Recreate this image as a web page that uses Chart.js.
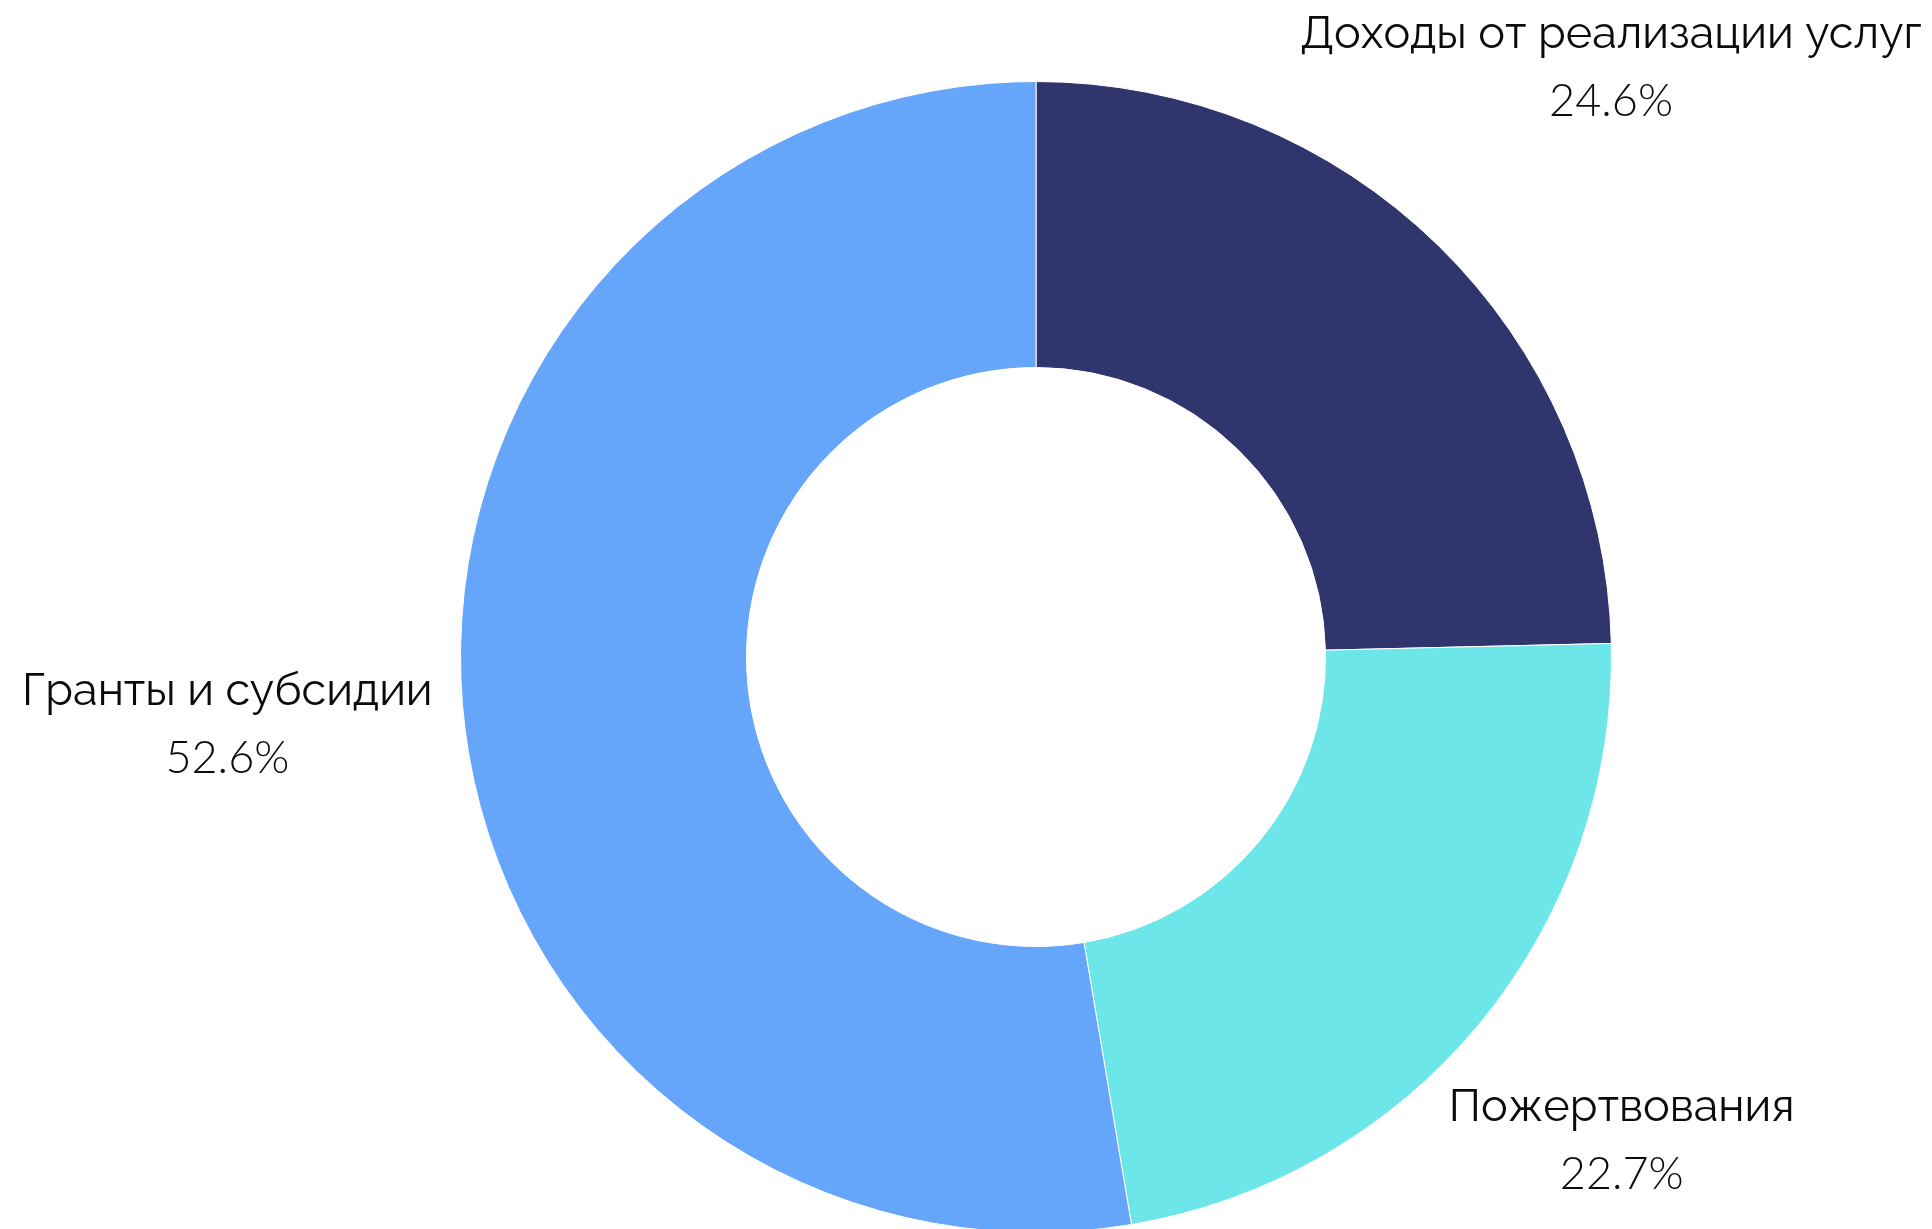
<!DOCTYPE html>
<html lang="ru">
<head>
<meta charset="utf-8">
<title>Структура доходов</title>
<script src="https://cdn.jsdelivr.net/npm/chart.js@4/dist/chart.umd.min.js"></script>
<style>
  html, body { margin: 0; padding: 0; background: #ffffff; overflow: hidden; }
  .chart-wrap { position: relative; width: 1932px; height: 1240px; }
</style>
</head>
<body>
<div class="chart-wrap"><canvas id="incomeChart"></canvas></div>
<script>
const categories = ['Доходы от реализации услуг', 'Пожертвования', 'Гранты и субсидии'];
const shares = [24.6, 22.7, 52.6];
const shareLabels = ['24.6%', '22.7%', '52.6%'];
const sliceColors = ['#31356e', '#6ce6e8', '#66a6fa'];

// how far out each label block sits, in outer radii
const LABEL_RADIUS = [1.43, 1.32, 1.41];
const LABEL_FONT = '400 45px Raleway, Lato, "Open Sans", sans-serif';
// the installed Raleway only has old-style figures, so numbers use Lato
const VALUE_FONT = '300 45px Lato, "Open Sans", sans-serif';
const LABEL_LINE = 67;

const outsideLabels = {
  id: 'outsideLabels',
  afterDatasetsDraw(chart) {
    const ctx = chart.ctx;
    const arcs = chart.getDatasetMeta(0).data;
    ctx.save();
    ctx.fillStyle = '#0b0b0b';
    ctx.textAlign = 'center';
    ctx.textBaseline = 'middle';
    arcs.forEach((arc, i) => {
      const { x, y, startAngle, endAngle, outerRadius } = arc.getProps(['x', 'y', 'startAngle', 'endAngle', 'outerRadius'], true);
      const mid = (startAngle + endAngle) / 2;
      const r = outerRadius * LABEL_RADIUS[i];
      const lx = x + Math.cos(mid) * r;
      const ly = y + Math.sin(mid) * r;
      ctx.font = LABEL_FONT;
      ctx.fillText(categories[i], lx, ly - LABEL_LINE / 2);
      ctx.font = VALUE_FONT;
      ctx.fillText(shareLabels[i], lx, ly + LABEL_LINE / 2);
    });
    ctx.restore();
  },
};

new Chart(document.getElementById('incomeChart'), {
  type: 'doughnut',
  data: {
    labels: categories,
    datasets: [{
      data: shares,
      backgroundColor: sliceColors,
      borderColor: '#ffffff',
      borderWidth: 1,
      hoverOffset: 0,
    }],
  },
  options: {
    responsive: true,
    maintainAspectRatio: false,
    animation: false,
    cutout: '50.3%',
    layout: {
      padding: { top: 81, bottom: 7, left: 460, right: 320 },
    },
    plugins: {
      legend: { display: false },
      tooltip: { enabled: false },
    },
  },
  plugins: [outsideLabels],
});
</script>
</body>
</html>
